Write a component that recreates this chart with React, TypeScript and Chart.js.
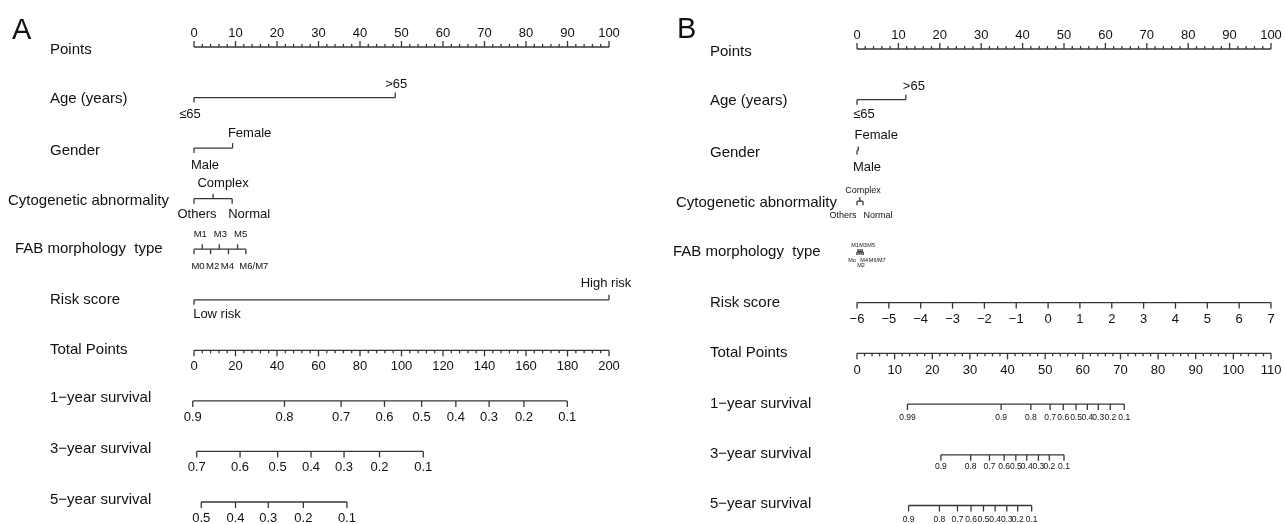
import React, { useEffect, useRef } from "react";
import { Chart, registerables } from "chart.js";

Chart.register(...registerables);

// ---------------- DATA ----------------
const rowTitles = [
  "Points",
  "Age (years)",
  "Gender",
  "Cytogenetic abnormality",
  "FAB morphology  type",
  "Risk score",
  "Total Points",
  "1\u2212year survival",
  "3\u2212year survival",
  "5\u2212year survival",
];

const pointsMajor = [0, 10, 20, 30, 40, 50, 60, 70, 80, 90, 100];
const pointsMinorStep = 2;

const ageLevels = ["\u226465", ">65"];
const genderLevels = ["Male", "Female"];
const cytoLevels = ["Others", "Complex", "Normal"];
const fabLevelsA = ["M0", "M1", "M2", "M3", "M4", "M5", "M6/M7"];
const fabLevelsB = ["Mo", "M1", "M2", "M3", "M4", "M5", "M6/M7"];
const riskLevelsA = ["Low risk", "High risk"];

// Panel A (points per level)
const agePointsA = [0, 48.5];
const genderPointsA = [0, 9.3];
const cytoPointsA = [0, 4.6, 9.2];
const fabPointsA = [0, 2.0, 4.0, 6.1, 8.3, 10.5, 12.5];
const riskPointsA = [0, 100];
const totalMaxA = 200;
const totalMajorA = [0, 20, 40, 60, 80, 100, 120, 140, 160, 180, 200];
const totalMinorStepA = 4;
const surv1LabelsA = ["0.9", "0.8", "0.7", "0.6", "0.5", "0.4", "0.3", "0.2", "0.1"];
const surv1TotalA = [-0.6, 43.6, 70.9, 91.8, 109.7, 126.2, 142.2, 159.0, 179.9];
const surv3LabelsA = ["0.7", "0.6", "0.5", "0.4", "0.3", "0.2", "0.1"];
const surv3TotalA = [1.3, 22.2, 40.3, 56.4, 72.3, 89.4, 110.5];
const surv5LabelsA = ["0.5", "0.4", "0.3", "0.2", "0.1"];
const surv5TotalA = [3.5, 20.0, 35.8, 52.7, 73.7];

// Panel B
const agePointsB = [0, 11.8];
const genderPointsB = [0, 0.3];
const cytoPointsB = [0, 0.7, 1.45];
const fabPointsB = [0, 0.25, 0.5, 0.75, 1.0, 1.25, 1.5];
const riskScoreTicksB = [-6, -5, -4, -3, -2, -1, 0, 1, 2, 3, 4, 5, 6, 7];
const riskScoreRangeB = [-6, 7];
const totalMaxB = 110;
const totalMajorB = [0, 10, 20, 30, 40, 50, 60, 70, 80, 90, 100, 110];
const totalMinorStepB = 2;
const surv1LabelsB = ["0.99", "0.9", "0.8", "0.7", "0.6", "0.5", "0.4", "0.3", "0.2", "0.1"];
const surv1TotalB = [13.4, 38.3, 46.2, 51.3, 54.8, 58.2, 61.2, 64.1, 67.3, 71.0];
const surv3LabelsB = ["0.9", "0.8", "0.7", "0.6", "0.5", "0.4", "0.3", "0.2", "0.1"];
const surv3TotalB = [22.3, 30.2, 35.2, 39.1, 42.2, 45.1, 48.2, 51.1, 55.0];
const surv5LabelsB = ["0.9", "0.8", "0.7", "0.6", "0.5", "0.4", "0.3", "0.2", "0.1"];
const surv5TotalB = [13.7, 21.9, 26.7, 30.3, 33.6, 36.7, 39.8, 42.7, 46.4];

// ---------------- STYLE / LAYOUT ----------------
const FONT = '"Liberation Sans", Arial, Helvetica, sans-serif';
const LINE = "#3a3532";
const TEXT = "#111111";
const LW = 1.3;

type Tick = { v: number; text?: string; dir: 1 | -1; len: number; dx?: number; dy?: number; font?: number };
type Row = { title: string; titleX: number; titleDy: number; ticks: Tick[] };
type PanelSpec = {
  letter: string;
  letterX: number;
  letterY: number;
  canvasLeft: number;
  width: number;
  axisLeft: number;
  axisRight: number;
  top: number;
  bottom: number;
  rows: Row[];
};

const fmtSigned = (v: number) => (v < 0 ? "\u2212" + Math.abs(v) : String(v));

function pointsAxis(): Tick[] {
  const t: Tick[] = [];
  for (let v = 0; v <= 100 + 1e-9; v += pointsMinorStep) {
    const major = pointsMajor.includes(v);
    t.push({ v, dir: -1, len: major ? 6 : 3 });
  }
  pointsMajor.forEach((v) => t.push({ v, text: String(v), dir: -1, len: 0, dy: -14, font: 13 }));
  return t;
}

function totalAxis(major: number[], minorStep: number, max: number, dy: number): Tick[] {
  const t: Tick[] = [];
  for (let v = 0; v <= max + 1e-9; v += minorStep) {
    const isMajor = major.includes(v);
    t.push({ v: (v / max) * 100, dir: 1, len: isMajor ? 6 : 3 });
  }
  major.forEach((v) => t.push({ v: (v / max) * 100, text: String(v), dir: 1, len: 0, dy, font: 13 }));
  return t;
}

function catAxis(
  levels: string[],
  pts: number[],
  sides: ("above" | "below")[],
  dxs: number[],
  dyAbove: number,
  dyBelow: number,
  font: number,
  len: number,
  extraDy: number[] = []
): Tick[] {
  return levels.map((lab, i) => ({
    v: pts[i],
    text: lab,
    dir: sides[i] === "above" ? -1 : 1,
    len,
    dx: dxs[i] || 0,
    dy: (sides[i] === "above" ? dyAbove : dyBelow) + (extraDy[i] || 0),
    font,
  }));
}

function survAxis(labels: string[], totals: number[], max: number, font: number, dy: number): Tick[] {
  return labels.map((lab, i) => ({ v: (totals[i] / max) * 100, text: lab, dir: 1, len: 6, dy, font }));
}

function riskScoreAxis(): Tick[] {
  const [lo, hi] = riskScoreRangeB;
  return riskScoreTicksB.map((s) => ({
    v: ((s - lo) / (hi - lo)) * 100,
    text: fmtSigned(s),
    dir: 1,
    len: 6,
    dy: 17,
    font: 13,
  }));
}

const titleXA = [50, 50, 50, 8, 15, 50, 50, 50, 50, 50];
const titleDyA = [3, 1, 3, 2, 0, 0, 0, -3, -3, -2];
const titleXB = [68, 68, 68, 34, 31, 68, 68, 68, 68, 68];
const titleDyB = [3, 1, 2, 2, 0, 0, 0, 0, -1, -2];

const sidesFab: ("above" | "below")[] = ["below", "above", "below", "above", "below", "above", "below"];

const rowsA: Tick[][] = [
  pointsAxis(),
  catAxis(ageLevels, agePointsA, ["below", "above"], [-4, 1], -13, 17, 13, 5),
  catAxis(genderLevels, genderPointsA, ["below", "above"], [11, 17], -15, 17, 13, 5),
  catAxis(cytoLevels, cytoPointsA, ["below", "above", "below"], [3, 10, 17], -15, 16, 13, 5),
  catAxis(fabLevelsA, fabPointsA, sidesFab, [4, -2, 2, 1, -1, 3, 8], -15, 17, 9.5, 5),
  catAxis(riskLevelsA, riskPointsA, ["below", "above"], [23, -3], -16, 15, 13, 5),
  totalAxis(totalMajorA, totalMinorStepA, totalMaxA, 16),
  survAxis(surv1LabelsA, surv1TotalA, totalMaxA, 13, 17),
  survAxis(surv3LabelsA, surv3TotalA, totalMaxA, 13, 16),
  survAxis(surv5LabelsA, surv5TotalA, totalMaxA, 13, 16),
];

const rowsB: Tick[][] = [
  pointsAxis(),
  catAxis(ageLevels, agePointsB, ["below", "above"], [7, 8], -13, 15, 13, 5),
  catAxis(genderLevels, genderPointsB, ["below", "above"], [10, 18], -15, 17, 13, 4),
  catAxis(cytoLevels, cytoPointsB, ["below", "above", "below"], [-14, 3, 15], -11, 14, 9, 4),
  catAxis(fabLevelsB, fabPointsB, sidesFab, [-5, -3, 2, 3, 3, 9, 14], -6, 9, 5.5, 3, [0, 0, 5, 0, 0, 0, 0]),
  riskScoreAxis(),
  totalAxis(totalMajorB, totalMinorStepB, totalMaxB, 17),
  survAxis(surv1LabelsB, surv1TotalB, totalMaxB, 8.5, 14),
  survAxis(surv3LabelsB, surv3TotalB, totalMaxB, 8.5, 12),
  survAxis(surv5LabelsB, surv5TotalB, totalMaxB, 8.5, 14),
];

const panelA: PanelSpec = {
  letter: "A",
  letterX: 12,
  letterY: 39,
  canvasLeft: 0,
  width: 642,
  axisLeft: 194,
  axisRight: 609,
  top: 47,
  bottom: 502,
  rows: rowTitles.map((t, i) => ({ title: t, titleX: titleXA[i], titleDy: titleDyA[i], ticks: rowsA[i] })),
};

const panelB: PanelSpec = {
  letter: "B",
  letterX: 677 - 642,
  letterY: 38,
  canvasLeft: 642,
  width: 643,
  axisLeft: 857 - 642,
  axisRight: 1271 - 642,
  top: 49,
  bottom: 505.5,
  rows: rowTitles.map((t, i) => ({ title: t, titleX: titleXB[i], titleDy: titleDyB[i], ticks: rowsB[i] })),
};

function makePlugin(spec: PanelSpec) {
  return {
    id: "nomogram" + spec.letter,
    afterDatasetsDraw(chart: any) {
      const ctx: CanvasRenderingContext2D = chart.ctx;
      const xs = chart.scales.x;
      const ys = chart.scales.y;
      ctx.save();
      ctx.fillStyle = TEXT;
      ctx.font = `29px ${FONT}`;
      ctx.textAlign = "left";
      ctx.textBaseline = "alphabetic";
      ctx.fillText(spec.letter, spec.letterX, spec.letterY);

      spec.rows.forEach((row, ri) => {
        const y = ys.getPixelForValue(ri);
        ctx.fillStyle = TEXT;
        ctx.font = `15px ${FONT}`;
        ctx.textAlign = "left";
        ctx.textBaseline = "middle";
        ctx.fillText(row.title, row.titleX, y + row.titleDy);
        ctx.strokeStyle = LINE;
        ctx.lineWidth = LW;
        ctx.lineCap = "butt";
        row.ticks.forEach((t) => {
          const x = xs.getPixelForValue(t.v);
          if (t.len > 0) {
            ctx.beginPath();
            ctx.moveTo(x, y);
            ctx.lineTo(x, y + t.dir * t.len);
            ctx.stroke();
          }
          if (t.text !== undefined) {
            ctx.fillStyle = TEXT;
            ctx.font = `${t.font || 13}px ${FONT}`;
            ctx.textAlign = "center";
            ctx.textBaseline = "middle";
            ctx.fillText(t.text, x + (t.dx || 0), y + (t.dy || 0));
          }
        });
      });
      ctx.restore();
    },
  };
}

function Panel({ spec }: { spec: PanelSpec }) {
  const ref = useRef<HTMLCanvasElement>(null);
  useEffect(() => {
    const canvas = ref.current!;
    const datasets = spec.rows.map((row, ri) => {
      const vals = row.ticks.map((t) => t.v);
      const lo = Math.min(...vals);
      const hi = Math.max(...vals);
      return {
        label: row.title,
        data: [
          { x: lo, y: ri },
          { x: hi, y: ri },
        ],
        showLine: true,
        borderColor: LINE,
        borderWidth: LW,
        pointRadius: 0,
        fill: false,
        clip: false as any,
        tension: 0,
      };
    });
    const chart = new Chart(canvas, {
      type: "scatter",
      data: { datasets },
      options: {
        responsive: false,
        animation: false,
        devicePixelRatio: 1,
        events: [],
        layout: {
          padding: {
            left: spec.axisLeft,
            right: spec.width - spec.axisRight,
            top: spec.top,
            bottom: 524 - spec.bottom,
          },
        },
        scales: {
          x: { type: "linear", min: 0, max: 100, display: false },
          y: { type: "linear", min: 0, max: 9, reverse: true, display: false },
        },
        plugins: { legend: { display: false }, tooltip: { enabled: false } },
      },
      plugins: [makePlugin(spec)],
    } as any);
    return () => chart.destroy();
  }, [spec]);
  return (
    <canvas
      ref={ref}
      width={spec.width}
      height={524}
      style={{ position: "absolute", left: spec.canvasLeft, top: 0, width: spec.width, height: 524 }}
    />
  );
}

export default function App() {
  return (
    <div style={{ position: "fixed", left: 0, top: 0, width: 1285, height: 524, background: "#ffffff", overflow: "hidden" }}>
      <Panel spec={panelA} />
      <Panel spec={panelB} />
    </div>
  );
}
